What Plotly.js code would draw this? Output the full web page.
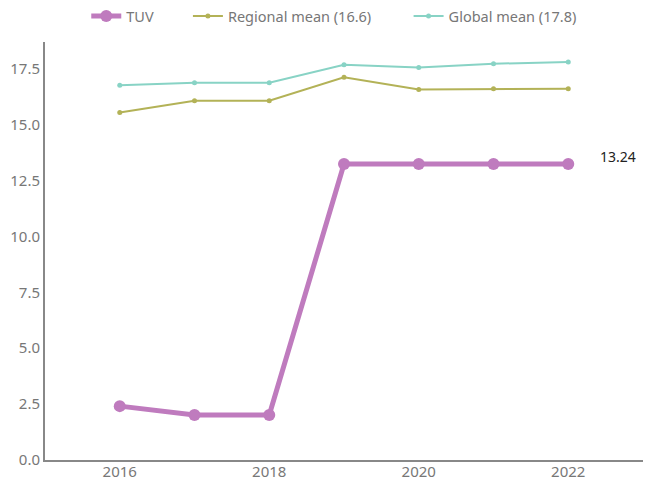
<!DOCTYPE html>
<html><head><meta charset="utf-8">
<script src="https://cdn.plot.ly/plotly-3.0.1.min.js"></script>
<style>html,body{margin:0;padding:0;background:#fff}</style>
</head><body>
<div id="chart" style="width:650px;height:481px"></div>
<script>
const years = [2016, 2017, 2018, 2019, 2020, 2021, 2022];
const tuv = [2.41, 2.01, 2.01, 13.24, 13.24, 13.24, 13.24];
const regional = [15.55, 16.07, 16.07, 17.12, 16.58, 16.61, 16.61];
const global = [16.77, 16.88, 16.88, 17.68, 17.56, 17.73, 17.8];
const tuvLabel = "13.24";

const font = "Noto Sans, Open Sans, sans-serif";
const traces = [
  {x: years, y: tuv, name: "TUV", mode: "lines+markers", legend: "legend",
   line: {color: "#bf7bbe", width: 5}, marker: {size: 12, color: "#bf7bbe"}},
  {x: years, y: regional, name: "Regional mean (16.6)", mode: "lines+markers", legend: "legend2",
   line: {color: "#b3b257", width: 2}, marker: {size: 5, color: "#b3b257"}},
  {x: years, y: global, name: "Global mean (17.8)", mode: "lines+markers", legend: "legend3",
   line: {color: "#88d3c5", width: 2}, marker: {size: 5, color: "#88d3c5"}}
];
const legBase = {orientation: "h", y: 1.062, yanchor: "middle", xanchor: "left",
                 font: {size: 14.5, color: "#777"}, bgcolor: "rgba(0,0,0,0)"};
const layout = {
  width: 650, height: 481,
  margin: {l: 45, r: 7, t: 42, b: 21, autoexpand: false},
  paper_bgcolor: "#fff", plot_bgcolor: "#fff",
  font: {family: font, size: 15, color: "#777"},
  showlegend: true,
  legend: Object.assign({}, legBase, {x: 0.069}),
  legend2: Object.assign({}, legBase, {x: 0.239}),
  legend3: Object.assign({}, legBase, {x: 0.608}),
  xaxis: {range: [2015, 2023], tickvals: [2016, 2018, 2020, 2022], showgrid: false,
          zeroline: false, showline: true, linecolor: "#888", linewidth: 2, ticks: "",
          ticklabelstandoff: -3},
  yaxis: {range: [0, 18.7], tickvals: [0, 2.5, 5, 7.5, 10, 12.5, 15, 17.5],
          tickformat: ".1f", showgrid: false, zeroline: false, showline: true,
          linecolor: "#888", linewidth: 2, ticks: ""},
  annotations: [{x: 2022, y: tuv[tuv.length - 1], text: tuvLabel, xref: "x", yref: "y",
    showarrow: false, xanchor: "left", xshift: 30, yshift: 8,
    font: {size: 14, color: "#222"}}]
};
Plotly.newPlot("chart", traces, layout, {displayModeBar: false});
</script>
</body></html>
